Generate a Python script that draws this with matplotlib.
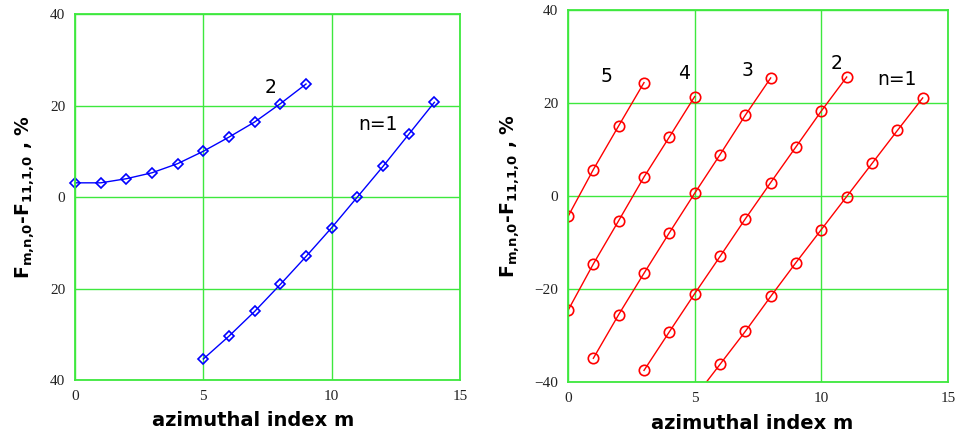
import numpy as np
import matplotlib.pyplot as plt

# left panel: two branches (blue diamonds)
m_left_n2 = [0, 1, 2, 3, 4, 5, 6, 7, 8, 9]
f_left_n2 = [3.1, 3.1, 4.0, 5.3, 7.3, 10.0, 13.1, 16.4, 20.4, 24.7]
m_left_n1 = [5, 6, 7, 8, 9, 10, 11, 12, 13, 14]
f_left_n1 = [-35.4, -30.4, -25.0, -19.1, -13.0, -6.7, 0.0, 6.7, 13.7, 20.7]

# right panel: n = 1..5 (red circles)
m_right = {
    1: [5, 6, 7, 8, 9, 10, 11, 12, 13, 14],
    2: [3, 4, 5, 6, 7, 8, 9, 10, 11],
    3: [1, 2, 3, 4, 5, 6, 7, 8],
    4: [0, 1, 2, 3, 4, 5],
    5: [0, 1, 2, 3],
}
f_right = {
    1: [-43.3, -36.2, -29.1, -21.6, -14.3, -7.2, -0.1, 7.0, 14.1, 21.1],
    2: [-37.5, -29.2, -21.0, -13.0, -4.9, 2.9, 10.6, 18.3, 25.6],
    3: [-34.9, -25.5, -16.6, -7.9, 0.6, 8.9, 17.4, 25.4],
    4: [-24.6, -14.6, -5.3, 4.1, 12.7, 21.4],
    5: [-4.4, 5.7, 15.1, 24.4],
}

left_labels = [("2", 7.6, 24.0), ("n=1", 11.8, 15.8)]
right_labels = [("5", 1.5, 25.7), ("4", 4.6, 26.3), ("3", 7.1, 27.0),
                ("2", 10.6, 28.5), ("n=1", 13.0, 25.0)]

xticks = [0, 5, 10, 15]
yticks = [-40, -20, 0, 20, 40]
left_yticklabels = ["40", "20", "0", "20", "40"]
right_yticklabels = ["\u221240", "\u221220", "0", "20", "40"]

grid_green = "#3ee83e"
ylabel = r"F$_{\mathregular{m{,}n{,}0}}$-F$_{\mathregular{11{,}1{,}0}}$ , %"

fig = plt.figure(figsize=(9.58, 4.34), dpi=100)
ax1 = fig.add_axes([0.0783, 0.1244, 0.4019, 0.8433])
ax2 = fig.add_axes([0.5929, 0.1198, 0.3967, 0.857])


def style(ax, yticklabels, xlab_pos, ylab_pos):
    ax.set_xlim(0, 15)
    ax.set_ylim(-40, 40)
    ax.set_xticks(xticks)
    ax.set_yticks(yticks)
    ax.set_yticklabels(yticklabels)
    ax.tick_params(length=0, pad=7, labelsize=11)
    for lab in ax.get_xticklabels() + ax.get_yticklabels():
        lab.set_family("Liberation Serif")
        lab.set_color("#222222")
    ax.grid(True, color=grid_green, linewidth=1.0)
    ax.set_axisbelow(True)
    for sp in ax.spines.values():
        sp.set_color(grid_green)
        sp.set_linewidth(1.3)
    ax.set_xlabel("azimuthal index m", fontsize=14, fontweight="bold")
    ax.xaxis.set_label_coords(xlab_pos, -0.085, transform=ax.transAxes)
    ax.xaxis.label.set_va("top")
    ax.set_ylabel(ylabel, fontsize=13.5, fontweight="bold")
    ax.yaxis.set_label_coords(ylab_pos, 0.5)


style(ax1, left_yticklabels, 0.462, -0.099)
ax1.plot(m_left_n2, f_left_n2, color="#0000ff", lw=1.0, marker="D", ms=5.5,
         mfc="none", mec="#0000ff", mew=1.2, clip_on=False)
ax1.plot(m_left_n1, f_left_n1, color="#0000ff", lw=1.0, marker="D", ms=5.5,
         mfc="none", mec="#0000ff", mew=1.2, clip_on=False)
for txt, x, y in left_labels:
    ax1.text(x, y, txt, fontsize=13.5, ha="center", va="center")

style(ax2, right_yticklabels, 0.484, -0.121)
for n in m_right:
    ax2.plot(m_right[n], f_right[n], color="#ff0000", lw=1.0, marker="o",
             ms=7.5, mfc="none", mec="#ff0000", mew=1.2)
for txt, x, y in right_labels:
    ax2.text(x, y, txt, fontsize=13.5, ha="center", va="center")

fig.savefig("out.png", dpi=100)
